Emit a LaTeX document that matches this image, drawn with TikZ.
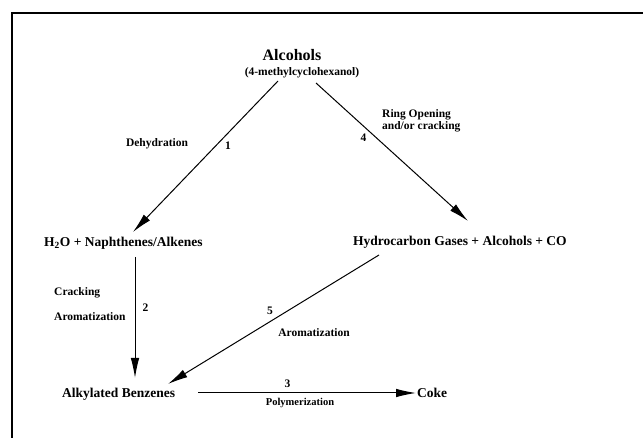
\documentclass[tikz,border=0pt]{standalone}
\usepackage{fontspec}
\setmainfont{Liberation Serif}
\usetikzlibrary{arrows.meta,calc}
\begin{document}
\begin{tikzpicture}[x=1pt,y=-1pt]
      \tikzset{species/.style={font=\bfseries\fontsize{13.5}{15}\selectfont, inner sep=1pt},
               step label/.style={font=\bfseries\fontsize{11.5}{12.5}\selectfont, inner sep=1pt, align=left},
               step number/.style={font=\bfseries\fontsize{11.5}{12}\selectfont, inner sep=1pt},
               reaction/.style={-{Latex[length=20pt,width=8.5pt]}, line width=1pt}}
      \useasboundingbox (0,0) rectangle (643,438);
%% Frame
      \draw[line width=1.2pt] (643,13) -- (12,13) -- (12,438);
%% Species
	%start
      \node[font=\bfseries\fontsize{16}{18}\selectfont, inner sep=1pt] (alc) at (292,55) {Alcohols};
      \node[font=\bfseries\fontsize{11.5}{13}\selectfont, inner sep=1pt] (mch) at (302,73) {(4-methylcyclohexanol)};
	%products
      \node[species, anchor=west] (naph) at (43,243) {H\textsubscript{2}O + Naphthenes/Alkenes};
      \node[species, anchor=west] (hcg) at (352,242) {Hydrocarbon Gases + Alcohols + CO};
      \node[species, anchor=west] (alkb) at (61,394) {Alkylated Benzenes};
      \node[species, anchor=west] (coke) at (416,393) {Coke};
%% Labels
      \node[step label] (dehyd) at (157,144) {Dehydration};
      \node[step label, anchor=west] (ring) at (381,121) {Ring Opening\\and/or cracking};
      \node[step label, anchor=west] (crack) at (53,293) {Cracking};
      \node[step label, anchor=west] (arom2) at (53,317) {Aromatization};
      \node[step label] (arom5) at (314,333) {Aromatization};
      \node[step label, font=\bfseries\fontsize{10.5}{12}\selectfont] (poly) at (300,403) {Polymerization};
%% Reactions
      \path[reaction] ($(mch)+(-24,8)$) edge node[step number, pos=.43, right=8pt] (n1) {1} ($(naph.west)+(90,-11)$);
      \path[reaction] ($(mch)+(14,10)$) edge node[step number, pos=.40, left=9pt] (n4) {4} ($(hcg.west)+(116,-21)$);
      \path[reaction] ($(naph.west)+(92,14)$) edge node[step number, pos=.42, right=6pt] (n2) {2} ($(alkb.west)+(74,-16)$);
      \path[reaction] ($(hcg.west)+(27,13)$) edge node[step number, pos=.43, left=14pt] (n5) {5} ($(alkb.west)+(107,-10)$);
      \path[reaction] ($(alkb.west)+(137,-1)$) edge node[step number, pos=.41, above=4pt] (n3) {3} (coke.west);
\end{tikzpicture}
\end{document}
